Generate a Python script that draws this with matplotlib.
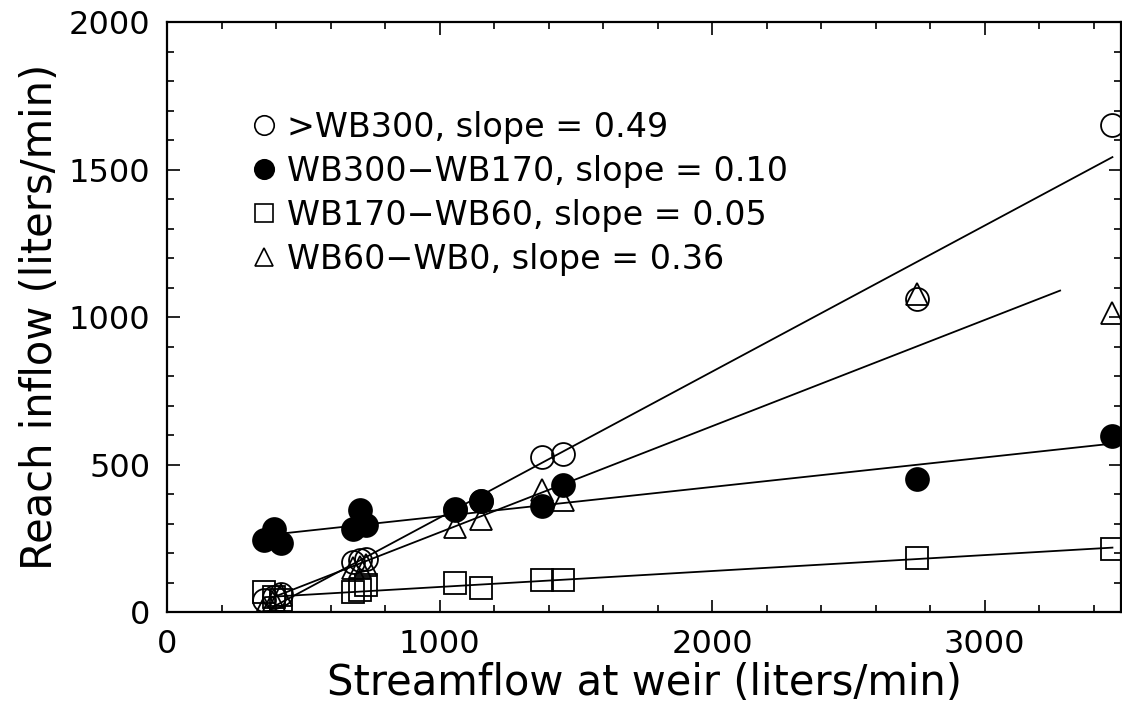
import numpy as np
import matplotlib
matplotlib.use('Agg')
import matplotlib.pyplot as plt
from matplotlib.lines import Line2D
from matplotlib.ticker import MultipleLocator

# streamflow at the weir (liters/min) for each survey
flow = [357, 393, 418, 681, 706, 730, 1055, 1153, 1374, 1453, 2752, 3469]

# reach inflow (liters/min)
above_wb300 = [40, 50, 60, 170, 175, 181, 345, 375, 525, 536, 1061, 1650]
wb300_wb170 = [244, 283, 233, 283, 346, 295, 350, 378, 361, 429, 450, 597]
wb170_wb60 = [69, 50, 41, 69, 75, 91, 97, 80, 110, 110, 183, 213]
wb60_wb0 = [14, 40, 57, 150, 153, 160, 288, 317, 413, 380, 1078, 1014]

# fitted lines: (intercept, slope, x start, x end)
fits = {
    'above': (-175, 0.495, 380, 3469),
    'filled': (224, 0.100, 400, 3469),
    'square': (31, 0.054, 360, 3469),
    'triangle': (-90, 0.360, 380, 3277),
}

labels = ['>WB300, slope = 0.49',
          'WB300−WB170, slope = 0.10',
          'WB170−WB60, slope = 0.05',
          'WB60−WB0, slope = 0.36']

plt.rcParams['font.family'] = ['DejaVu Sans']

fig = plt.figure(figsize=(11.22, 7.23), dpi=100)
ax = fig.add_axes([0.149, 0.1535, 0.850, 0.816])

# regression lines
for key, (b0, b1, x0, x1) in fits.items():
    xs = np.array([x0, x1])
    ax.plot(xs, b0 + b1 * xs, color='black', lw=1.3, zorder=2)

ms = 16.5
mew = 1.3
ax.plot(flow, above_wb300, 'o', ms=ms, mfc='none', mec='black', mew=mew, zorder=3)
ax.plot(flow, wb170_wb60, 's', ms=ms - 1, mfc='none', mec='black', mew=mew, zorder=3)
ax.plot(flow, wb60_wb0, '^', ms=ms, mfc='none', mec='black', mew=mew, zorder=3)
ax.plot(flow, wb300_wb170, 'o', ms=ms, mfc='black', mec='black', mew=mew, zorder=4)

handles = [
    Line2D([], [], ls='none', marker='o', ms=14, mfc='none', mec='black', mew=1.2),
    Line2D([], [], ls='none', marker='o', ms=14, mfc='black', mec='black', mew=1.2),
    Line2D([], [], ls='none', marker='s', ms=13, mfc='none', mec='black', mew=1.2),
    Line2D([], [], ls='none', marker='^', ms=13, mfc='none', mec='black', mew=1.2),
]
ax.legend(handles, labels, loc='upper left', bbox_to_anchor=(0.070, 0.878),
          frameon=False, fontsize=24, handletextpad=0.3, labelspacing=0.33,
          borderpad=0, handlelength=0.8)

ax.set_xlim(0, 3500)
ax.set_ylim(0, 2000)
ax.set_xticks([0, 1000, 2000, 3000])
ax.set_yticks([0, 500, 1000, 1500, 2000])
ax.xaxis.set_minor_locator(MultipleLocator(200))
ax.yaxis.set_minor_locator(MultipleLocator(100))
ax.tick_params(which='both', direction='in', top=True, right=True, labelsize=23, width=1.2)
ax.tick_params(which='major', length=9, pad=12)
ax.tick_params(which='minor', length=5)
for s in ax.spines.values():
    s.set_linewidth(1.6)

ax.set_xlabel('Streamflow at weir (liters/min)', fontsize=30, labelpad=2)
ax.set_ylabel('Reach inflow (liters/min)', fontsize=30, labelpad=6)

plt.savefig('out.png', dpi=100)
